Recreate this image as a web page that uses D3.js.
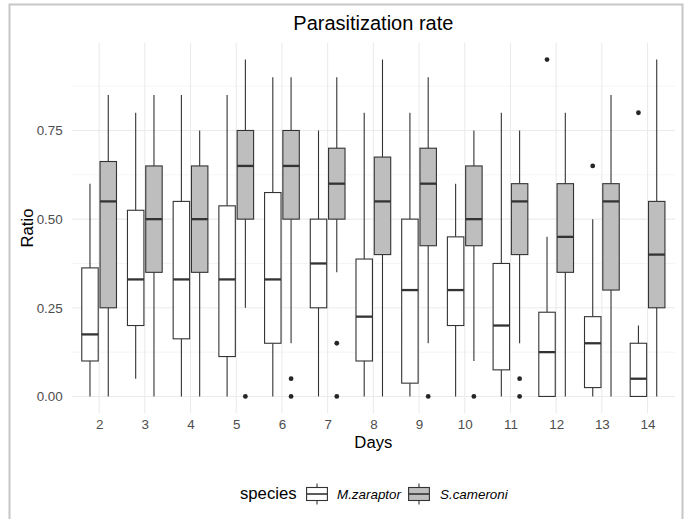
<!DOCTYPE html>
<html>
<head>
<meta charset="utf-8">
<script src="https://cdn.jsdelivr.net/npm/d3@7/dist/d3.min.js"></script>
<style>
  html, body { margin: 0; padding: 0; background: #fff; }
  svg { display: block; font-family: "Liberation Sans", Arial, sans-serif; }
</style>
</head>
<body>
<svg id="chart" width="685" height="519"></svg>
<script>
// Sampling days and species
const days = [2, 3, 4, 5, 6, 7, 8, 9, 10, 11, 12, 13, 14];
const species = ["M.zaraptor", "S.cameroni"];
const speciesFill = ["#ffffff", "#bebebe"];

// Box summaries per day: lower whisker, Q1, median, Q3, upper whisker
const mzLow  = [0,     0.05,  0,      0,      0,     0,     0,      0,      0,    0,     0,      0,     0];
const mzQ1   = [0.10,  0.20,  0.1625, 0.1125, 0.15,  0.25,  0.10,   0.0375, 0.20, 0.075, 0,      0.025, 0];
const mzMed  = [0.175, 0.33,  0.33,   0.33,   0.33,  0.375, 0.225,  0.30,   0.30, 0.20,  0.125,  0.15,  0.05];
const mzQ3   = [0.3625,0.525, 0.55,   0.5375, 0.575, 0.50,  0.3875, 0.50,   0.45, 0.375, 0.2375, 0.225, 0.15];
const mzHigh = [0.60,  0.80,  0.85,   0.85,   0.90,  0.75,  0.80,   0.80,   0.60, 0.80,  0.45,   0.50,  0.20];

const scLow  = [0,      0,    0,    0.25, 0.15, 0.35, 0,     0.15,  0.10,  0.15, 0,    0,    0];
const scQ1   = [0.25,   0.35, 0.35, 0.50, 0.50, 0.50, 0.40,  0.425, 0.425, 0.40, 0.35, 0.30, 0.25];
const scMed  = [0.55,   0.50, 0.50, 0.65, 0.65, 0.60, 0.55,  0.60,  0.50,  0.55, 0.45, 0.55, 0.40];
const scQ3   = [0.6625, 0.65, 0.65, 0.75, 0.75, 0.70, 0.675, 0.70,  0.65,  0.60, 0.60, 0.60, 0.55];
const scHigh = [0.85,   0.85, 0.75, 0.95, 0.90, 0.90, 0.95,  0.90,  0.75,  0.75, 0.80, 0.85, 0.95];

// Outlying observations
const mzOutDays   = [12, 13, 14];
const mzOutValues = [0.95, 0.65, 0.80];
const scOutDays   = [5, 6, 6, 7, 7, 9, 10, 11, 11];
const scOutValues = [0, 0.05, 0, 0.15, 0, 0, 0, 0.05, 0];

const yTicks = [0, 0.25, 0.5, 0.75];
const yMinor = [0.125, 0.375, 0.625, 0.875];

// Build records used for drawing
const boxes = [];
days.forEach((d, i) => {
  boxes.push({ day: d, sp: 0, low: mzLow[i], q1: mzQ1[i], med: mzMed[i], q3: mzQ3[i], high: mzHigh[i] });
  boxes.push({ day: d, sp: 1, low: scLow[i], q1: scQ1[i], med: scMed[i], q3: scQ3[i], high: scHigh[i] });
});
const outliers = mzOutDays.map((d, i) => ({ day: d, sp: 0, v: mzOutValues[i] }))
  .concat(scOutDays.map((d, i) => ({ day: d, sp: 1, v: scOutValues[i] })));

const svg = d3.select("#chart");
const panel = { left: 71.7, right: 675, top: 42.7, bottom: 413.3 };

// outer frame
svg.append("path")
  .attr("d", "M9.5,519 L9.5,4.5 L682.5,4.5 L682.5,519")
  .attr("fill", "none").attr("stroke", "#c6c6c6").attr("stroke-width", 2);

const x = d3.scalePoint().domain(days).range([panel.left, panel.right]).padding(0.6);
const step = x.step();
const y = d3.scaleLinear().domain([-0.0475, 0.9975]).range([panel.bottom, panel.top]);

const dodge = [-0.2 * step, 0.2 * step];
const bw = 0.36 * step;

// grid
const grid = svg.append("g");
grid.selectAll(".minor").data(yMinor).join("line")
  .attr("x1", panel.left).attr("x2", panel.right)
  .attr("y1", d => y(d)).attr("y2", d => y(d))
  .attr("stroke", "#ededed").attr("stroke-width", 0.6);
grid.selectAll(".major").data(yTicks).join("line")
  .attr("x1", panel.left).attr("x2", panel.right)
  .attr("y1", d => y(d)).attr("y2", d => y(d))
  .attr("stroke", "#ebebeb").attr("stroke-width", 1.1);
grid.selectAll(".vmajor").data(days).join("line")
  .attr("x1", d => x(d)).attr("x2", d => x(d))
  .attr("y1", panel.top).attr("y2", panel.bottom)
  .attr("stroke", "#ebebeb").attr("stroke-width", 1.1);

// axes
const xAxis = svg.append("g").attr("transform", `translate(0,${panel.bottom})`)
  .call(d3.axisBottom(x).tickSize(0).tickPadding(6));
xAxis.select(".domain").remove();
xAxis.selectAll("text").attr("font-size", "13.4px").attr("fill", "#4d4d4d")
  .attr("font-family", "Liberation Sans, Arial, sans-serif");

const yAxis = svg.append("g").attr("transform", `translate(${panel.left},0)`)
  .call(d3.axisLeft(y).tickValues(yTicks).tickFormat(d3.format(".2f")).tickSize(0).tickPadding(9));
yAxis.select(".domain").remove();
yAxis.selectAll("text").attr("font-size", "13.4px").attr("fill", "#4d4d4d")
  .attr("font-family", "Liberation Sans, Arial, sans-serif");

// boxplots
const stroke = "#333333";
const g = svg.append("g");
const bx = d => x(d.day) + dodge[d.sp];
g.selectAll(".wh").data(boxes).join("line")
  .attr("x1", bx).attr("x2", bx)
  .attr("y1", d => y(d.q3)).attr("y2", d => y(d.high))
  .attr("stroke", stroke).attr("stroke-width", 1.1);
g.selectAll(".wl").data(boxes).join("line")
  .attr("x1", bx).attr("x2", bx)
  .attr("y1", d => y(d.q1)).attr("y2", d => y(d.low))
  .attr("stroke", stroke).attr("stroke-width", 1.1);
g.selectAll(".box").data(boxes).join("rect")
  .attr("x", d => bx(d) - bw / 2).attr("width", bw)
  .attr("y", d => y(d.q3)).attr("height", d => Math.max(0, y(d.q1) - y(d.q3)))
  .attr("fill", d => speciesFill[d.sp]).attr("stroke", stroke).attr("stroke-width", 1.1);
g.selectAll(".med").data(boxes).join("line")
  .attr("x1", d => bx(d) - bw / 2).attr("x2", d => bx(d) + bw / 2)
  .attr("y1", d => y(d.med)).attr("y2", d => y(d.med))
  .attr("stroke", stroke).attr("stroke-width", 2.3);
g.selectAll(".out").data(outliers).join("circle")
  .attr("cx", d => x(d.day) + dodge[d.sp]).attr("cy", d => y(d.v))
  .attr("r", 2.4).attr("fill", "#262626");

// titles
svg.append("text").attr("x", (panel.left + panel.right) / 2).attr("y", 30)
  .attr("text-anchor", "middle").attr("font-size", "20px").attr("fill", "#000")
  .text("Parasitization rate");
svg.append("text").attr("x", (panel.left + panel.right) / 2).attr("y", 448)
  .attr("text-anchor", "middle").attr("font-size", "16.7px").attr("fill", "#000")
  .text("Days");
svg.append("text")
  .attr("transform", `translate(33,${(panel.top + panel.bottom) / 2}) rotate(-90)`)
  .attr("text-anchor", "middle").attr("font-size", "16.7px").attr("fill", "#000")
  .text("Ratio");

// legend
const leg = svg.append("g");
leg.append("text").attr("x", 240).attr("y", 499).attr("font-size", "16.7px").attr("fill", "#000")
  .text("species");
const keyCenters = [317, 419];
const keyLabelX = [337, 440];
const ks = 26;
species.forEach((s, i) => {
  const cx = keyCenters[i], cy = 494;
  leg.append("line").attr("x1", cx).attr("x2", cx)
    .attr("y1", cy - ks * 0.4).attr("y2", cy + ks * 0.4)
    .attr("stroke", stroke).attr("stroke-width", 1.1);
  leg.append("rect").attr("x", cx - ks * 0.4).attr("width", ks * 0.8)
    .attr("y", cy - ks * 0.25).attr("height", ks * 0.5)
    .attr("fill", speciesFill[i]).attr("stroke", stroke).attr("stroke-width", 1.1);
  leg.append("line").attr("x1", cx - ks * 0.4).attr("x2", cx + ks * 0.4)
    .attr("y1", cy).attr("y2", cy)
    .attr("stroke", stroke).attr("stroke-width", 1.6);
  leg.append("text").attr("x", keyLabelX[i]).attr("y", 499)
    .attr("font-size", "13.4px").attr("font-style", "italic").attr("fill", "#000")
    .text(s);
});
</script>
</body>
</html>
